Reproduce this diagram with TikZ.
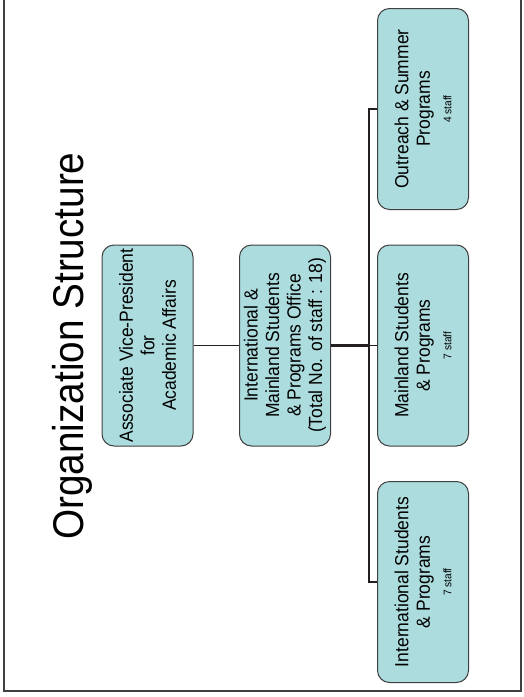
\documentclass[tikz,border=0pt]{standalone}
\usepackage{fontspec}
\setmainfont{Liberation Sans}
\newfontfamily\titlefont[FakeStretch=0.9]{Liberation Sans}
\newfontfamily\boxfont[FakeStretch=0.92]{Liberation Sans}
\usepackage{xcolor}
\usepackage{tikz}
\usetikzlibrary{positioning,calc}
\definecolor{boxfill}{RGB}{172,220,221}
\definecolor{boxline}{RGB}{64,64,64}
\definecolor{linkcol}{RGB}{35,31,32}
\newcommand{\staffno}[1]{{\fontsize{11}{12}\selectfont #1}}

\begin{document}
\begin{tikzpicture}[x=1pt, y=-1pt,
    box/.style={rectangle, rounded corners=12pt, draw=boxline, line width=1pt, fill=boxfill,
        rotate=90, minimum width=201pt, minimum height=91pt, inner sep=1pt, align=center,
        font=\boxfont\fontsize{19}{21.5}\selectfont},
    title/.style={rotate=90, anchor=base, inner sep=0pt, font=\titlefont\fontsize{43}{49}\selectfont},
    link/.style={draw=linkcol, line width=1.5pt}
]
\useasboundingbox (0,0) rectangle (524,697);
\draw[line width=2pt, boxline] (4,0) -- (4,691) -- (521,691) -- (521,0);

\node[title] (title) at (83,346) {Organization Structure};

\node[box] (avp) at (147.5,345.5) {Associate Vice-President\\for\\Academic Affairs};
\node[box] (office) at (285,345.5) {International \&\\Mainland Students\\\& Programs Office\\(Total No. of staff : 18)};
\node[box] (outreach) at (423,109) {Outreach \& Summer\\Programs\\\staffno{4 staff}};
\node[box] (mainland) at (423,345.5) {Mainland Students\\\& Programs\\\staffno{7 staff}};
\node[box] (intl) at (423,582) {International Students\\\& Programs\\\staffno{7 staff}};

\coordinate (bus) at (369,345.5);
\draw[link] (avp) -- (office);
\draw[link, line width=2.5pt] (office) -- (bus);
\draw[link] (bus) -- (mainland);
\draw[link, line width=2pt] (outreach.north) -| (bus) |- (intl.north);
\end{tikzpicture}
\end{document}
